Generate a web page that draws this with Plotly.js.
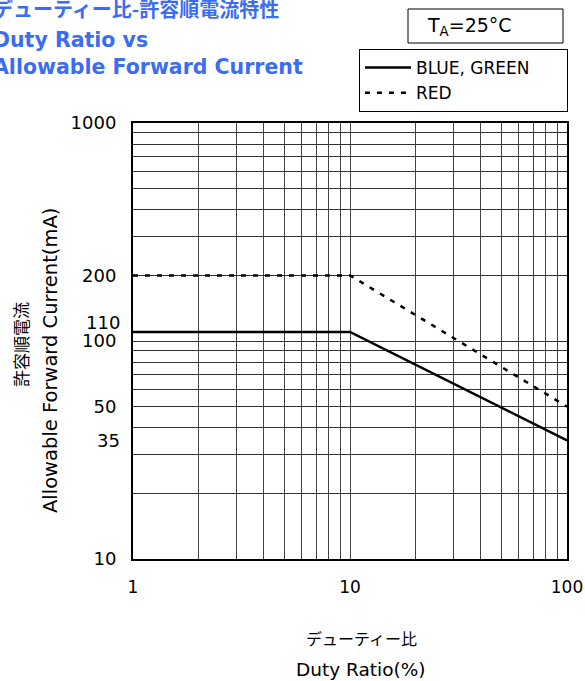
<!DOCTYPE html>
<html>
<head>
<meta charset="utf-8">
<script src="https://cdn.plot.ly/plotly-3.0.1.min.js"></script>
<style>html,body{margin:0;padding:0;background:#fff;}#chart{width:585px;height:681px;}</style>
</head>
<body>
<div id="chart"></div>
<script>
// ---- data ----
const dutyRatio = [1, 10, 100];
const blueGreenCurrent = [110, 110, 35];
const redCurrent = [200, 200, 50];
const seriesNames = ['BLUE, GREEN', 'RED'];
const xLabelVals = [1, 10, 100];
const xGridVals = [1,2,3,4,5,6,7,8,9,10,20,30,40,50,60,70,80,90,100];
const yLabelVals = [10, 50, 100, 200, 1000];
const yExtraLabelVals = [35, 110];
const yGridVals = [10,20,30,40,50,60,70,80,90,100,200,300,400,500,600,700,800,900,1000];
const titleLines = ['デューティー比-許容順電流特性', 'Duty Ratio vs', 'Allowable Forward Current'];
const xTitleLines = ['デューティー比', 'Duty Ratio(%)'];
const yTitleLines = ['許容順電流', 'Allowable Forward Current(mA)'];
const condText = 'T<sub>A</sub>=25°C';

// ---- layout helpers ----
const W = 585, H = 681;
const L = 133, R = 18, T = 123, B = 122;
const pw = W - L - R, ph = H - T - B;
const px = X => (X - L) / pw;
const py = Y => (H - B - Y) / ph;

const FONT = 'DejaVu Sans, Verdana, sans-serif';
const CJK = 'Noto Sans CJK JP, sans-serif';
const BLUE = '#3b6cf2';
const legendPad = '\u00A0'.repeat(6); // widen legend box like the reference

const traces = [
  {x: dutyRatio, y: blueGreenCurrent, name: seriesNames[0] + legendPad, mode: 'lines',
   line: {color: '#000', width: 2.5}},
  {x: dutyRatio, y: redCurrent, name: seriesNames[1], mode: 'lines',
   line: {color: '#000', width: 2.5, dash: '5px,7px'}}
];

const annotations = [];
// title
const titleY = [9, 40, 67];
titleLines.forEach((t, i) => {
  annotations.push({text: '<b>' + t + '</b>', xref: 'paper', yref: 'paper',
    x: px(-9), y: py(titleY[i]), xanchor: 'left', yanchor: 'middle', showarrow: false,
    font: {family: i === 0 ? CJK : FONT, size: i === 0 ? 20 : 20.5, color: BLUE}});
});
// extra y labels
yExtraLabelVals.forEach(v => {
  annotations.push({text: String(v), xref: 'paper', yref: 'y', x: 0, y: Math.log10(v),
    xanchor: 'right', yanchor: 'middle', xshift: -11, yshift: v === 110 ? 9.5 : 0,
    showarrow: false, font: {family: FONT, size: 18, color: '#000'}});
});
// x title
annotations.push({text: xTitleLines[0], xref: 'paper', yref: 'paper', x: px(361), y: py(638),
  xanchor: 'center', yanchor: 'middle', showarrow: false, font: {family: CJK, size: 16, color: '#000'}});
annotations.push({text: xTitleLines[1], xref: 'paper', yref: 'paper', x: px(361), y: py(670),
  xanchor: 'center', yanchor: 'middle', showarrow: false, font: {family: FONT, size: 18.5, color: '#000'}});
// y title
annotations.push({text: yTitleLines[0], xref: 'paper', yref: 'paper', x: px(20), y: py(345),
  xanchor: 'center', yanchor: 'middle', textangle: -90, showarrow: false, font: {family: CJK, size: 17, color: '#000'}});
annotations.push({text: yTitleLines[1], xref: 'paper', yref: 'paper', x: px(50), y: py(361),
  xanchor: 'center', yanchor: 'middle', textangle: -90, showarrow: false, font: {family: FONT, size: 19.5, color: '#000'}});
// condition box text
annotations.push({text: condText, xref: 'paper', yref: 'paper', x: px(425), y: py(26),
  xanchor: 'left', yanchor: 'middle', showarrow: false, font: {family: FONT, size: 19, color: '#000'}});

const shapes = [
  {type: 'rect', xref: 'paper', yref: 'paper', x0: px(408), x1: px(563), y0: py(9), y1: py(43),
   line: {color: '#000', width: 1}, fillcolor: 'rgba(0,0,0,0)'}
];

const layout = {
  width: W, height: H,
  margin: {l: L, r: R, t: T, b: B, pad: 0},
  paper_bgcolor: '#fff', plot_bgcolor: '#fff',
  font: {family: FONT, size: 18, color: '#000'},
  showlegend: true,
  legend: {x: px(359), y: py(49), xanchor: 'left', yanchor: 'top',
    bgcolor: '#fff', bordercolor: '#000', borderwidth: 1,
    font: {family: FONT, size: 17, color: '#000'}, tracegroupgap: 0, itemwidth: 46},
  xaxis: {type: 'log', range: [0, 2], tickmode: 'array', tickvals: xGridVals,
    ticktext: xGridVals.map(v => xLabelVals.includes(v) ? String(v) : ''),
    showgrid: true, gridcolor: '#444', gridwidth: 1,
    showline: true, mirror: true, linecolor: '#000', linewidth: 2,
    ticks: 'outside', ticklen: 12, tickcolor: 'rgba(0,0,0,0)',
    tickfont: {family: FONT, size: 17, color: '#000'}, zeroline: false, fixedrange: true},
  yaxis: {type: 'log', range: [1, 3], tickmode: 'array', tickvals: yGridVals,
    ticktext: yGridVals.map(v => yLabelVals.includes(v) ? String(v) : ''),
    showgrid: true, gridcolor: '#333', gridwidth: 1,
    showline: true, mirror: true, linecolor: '#000', linewidth: 2,
    ticks: 'outside', ticklen: 11, tickcolor: 'rgba(0,0,0,0)',
    tickfont: {family: FONT, size: 18, color: '#000'}, zeroline: false, fixedrange: true},
  annotations: annotations,
  shapes: shapes
};

Plotly.newPlot('chart', traces, layout, {staticPlot: true, displayModeBar: false});
</script>
</body>
</html>
